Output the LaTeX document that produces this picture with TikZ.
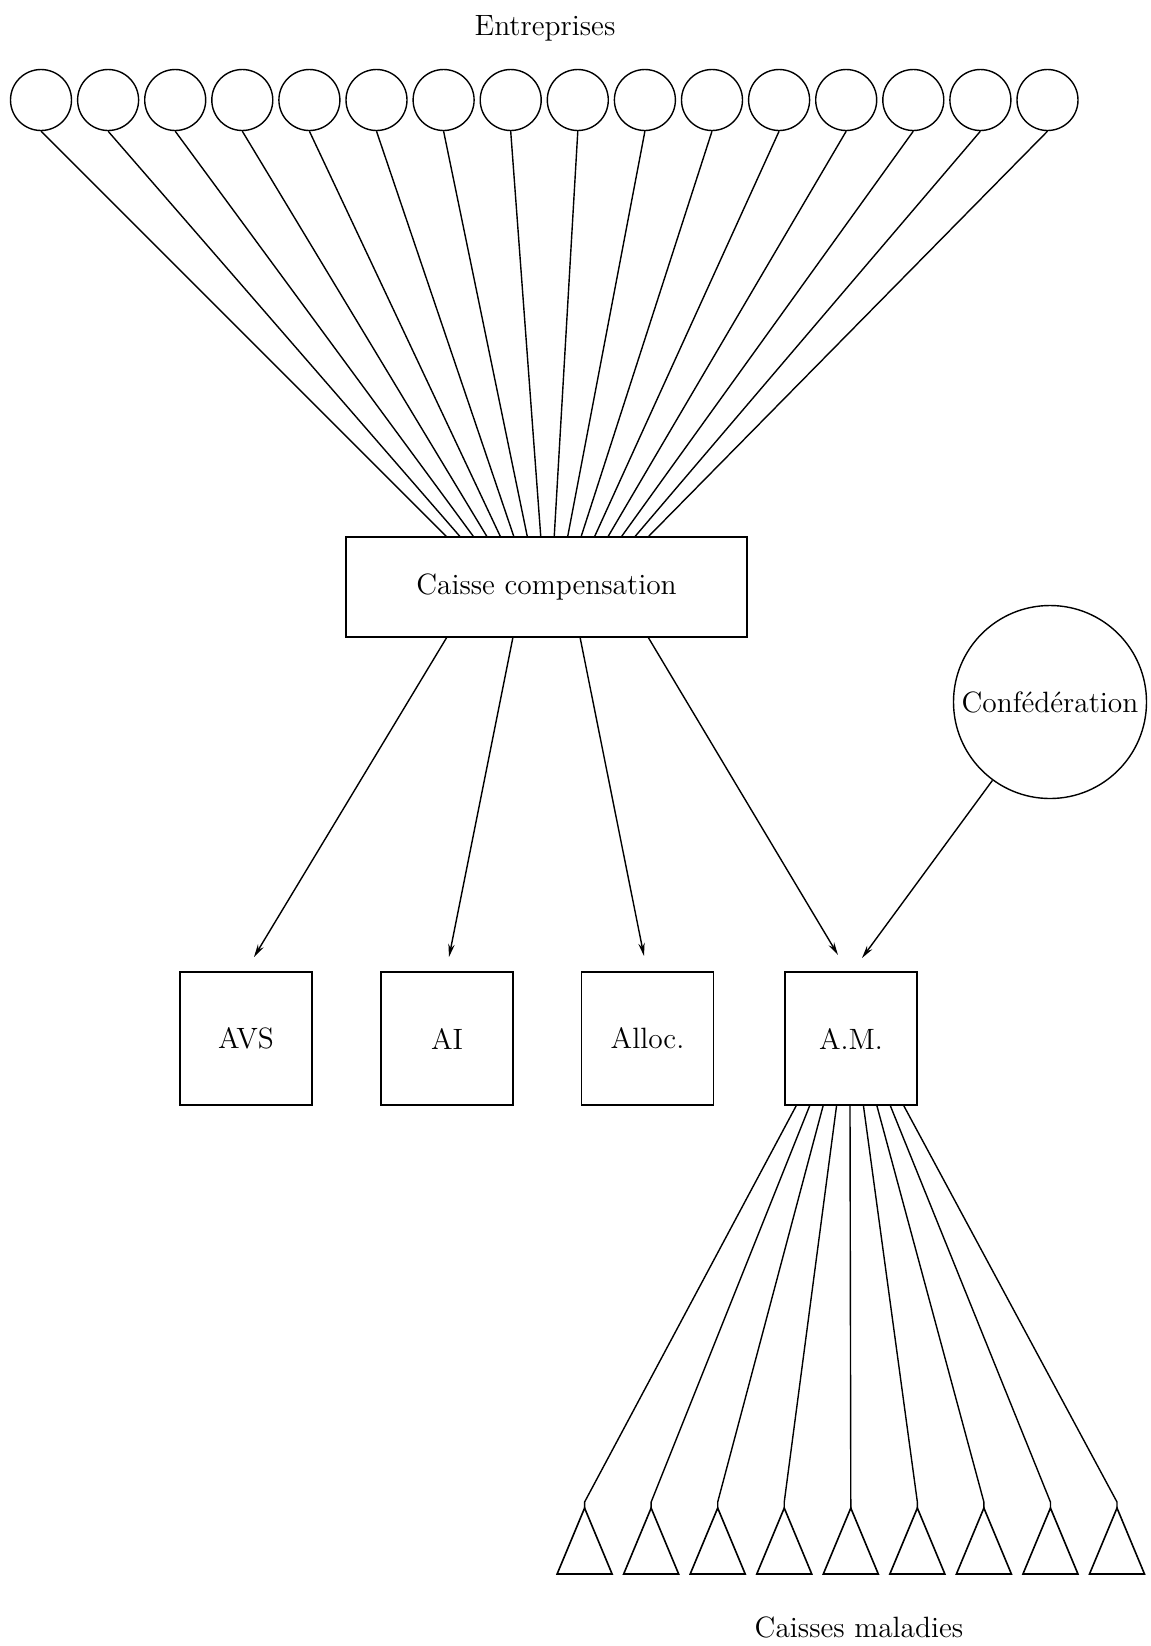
\documentclass[tikz,border=0pt]{standalone}
\usetikzlibrary{arrows.meta}
\begin{document}
\begin{tikzpicture}[x=0.5pt,y=-0.5pt,
  font=\fontsize{14.7}{17}\selectfont,
  ent/.style={circle,draw,line width=0.7pt,minimum size=30.5pt,inner sep=0pt},
  boxnode/.style={draw,line width=0.9pt,inner sep=0pt},
  smallbox/.style={boxnode,minimum width=66pt,minimum height=66.5pt},
  link/.style={line width=0.7pt},
  arr/.style={link,-{Stealth[length=6.5pt,width=3.2pt]}},
  trishape/.style={line width=0.8pt,line join=miter}]
\useasboundingbox (0,0) rectangle (1151,1646);

% title
\node[anchor=base,inner sep=0pt] (ttop) at (545,35) {Entreprises};

% enterprises
\foreach \i in {1,...,16}{
  \node[ent] (e\i) at ({41+67.1*(\i-1)},100) {};
  \coordinate (t\i) at ({447+13.4*(\i-1)},537);
}

% caisse de compensation
\node[boxnode,minimum width=200.5pt,minimum height=50pt] (caisse) at (546.5,587) {Caisse compensation};

\foreach \i in {1,...,16}{
  \draw[link] (e\i.south) -- (t\i);
}

% four boxes
\node[smallbox] (avs) at (246,1038.5) {AVS};
\node[smallbox] (ai) at (447,1038.5) {AI};
\node[smallbox] (alloc) at (647.5,1038.5) {Alloc.};
\node[smallbox] (am) at (851,1038.5) {A.M.};

% confederation
\node[circle,draw,line width=0.7pt,minimum size=96.5pt,inner sep=0pt] (conf) at (1050,702) {Confédération};

% start points on caisse bottom
\coordinate (b1) at (447,637);
\coordinate (b2) at (513,637);
\coordinate (b3) at (580,637);
\coordinate (b4) at (648,637);
% arrow tips
\coordinate (k1) at (254,957);
\coordinate (k2) at (449,957);
\coordinate (k3) at (644,956);
\coordinate (k4) at (838,955);
\coordinate (k5) at (862,958);

\draw[arr] (b1) -- (k1);
\draw[arr] (b2) -- (k2);
\draw[arr] (b3) -- (k3);
\draw[arr] (b4) -- (k4);
\draw[arr] (conf) -- (k5);

% caisses maladies
\foreach \i in {1,...,9}{
  \coordinate (s\i) at ({850+13.35*(\i-5)},1105);
  \coordinate (a\i) at ({584.6+66.55*(\i-1)},1508);
  \coordinate (j\i) at ({584.6+66.55*(\i-1)},1502);
  \draw[trishape] (a\i) -- ++(-27.5,66) -- ++(55,0) -- cycle;
  \draw[link] (s\i) -- (j\i) -- (a\i);
}

\node[anchor=base,inner sep=0pt] (tbot) at (859,1637) {Caisses maladies};
\end{tikzpicture}
\end{document}
